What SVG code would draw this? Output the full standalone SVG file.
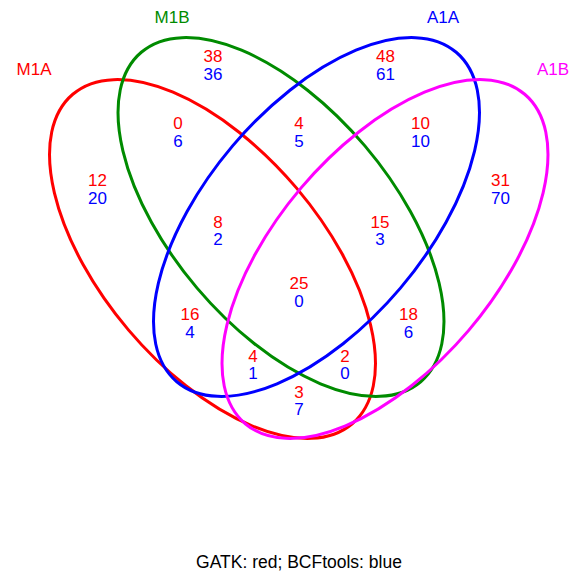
<svg xmlns="http://www.w3.org/2000/svg" width="569" height="573" viewBox="0 0 569 573">
<style>
.e{fill:none;stroke-width:3}
text{font-family:"Liberation Sans",Arial,sans-serif;font-size:17px;text-anchor:middle}
.r{fill:#FF0000}.b{fill:#0000FF}.g{fill:#008B00}.m{fill:#FF00FF}
</style>
<rect width="569" height="573" fill="#FFFFFF"/>
<g id="sets">
<g id="M1A"><ellipse class="e" stroke="#FF0000" cx="212.5" cy="259" rx="216" ry="110" transform="rotate(49.7 212.5 259)"/><text class="r" x="34" y="75">M1A</text></g>
<g id="M1B"><ellipse class="e" stroke="#008B00" cx="281" cy="217" rx="216" ry="110" transform="rotate(49.7 281 217)"/><text class="g" x="172" y="23">M1B</text></g>
<g id="A1A"><ellipse class="e" stroke="#0000FF" cx="316.5" cy="217" rx="216" ry="110" transform="rotate(-49.7 316.5 217)"/><text class="b" x="443" y="23">A1A</text></g>
<g id="A1B"><ellipse class="e" stroke="#FF00FF" cx="385" cy="259" rx="216" ry="110" transform="rotate(-49.7 385 259)"/><text class="m" x="553" y="75">A1B</text></g>
</g>
<g id="counts">
<text class="r" x="213" y="62">38</text><text class="b" x="213" y="80">36</text>
<text class="r" x="385.5" y="62">48</text><text class="b" x="385.5" y="80">61</text>
<text class="r" x="178" y="129">0</text><text class="b" x="178" y="147">6</text>
<text class="r" x="299" y="129">4</text><text class="b" x="299" y="147">5</text>
<text class="r" x="420.5" y="129">10</text><text class="b" x="420.5" y="147">10</text>
<text class="r" x="97.5" y="186">12</text><text class="b" x="97.5" y="204">20</text>
<text class="r" x="500.5" y="186">31</text><text class="b" x="500.5" y="204">70</text>
<text class="r" x="218" y="227.5">8</text><text class="b" x="218" y="245">2</text>
<text class="r" x="380" y="227.5">15</text><text class="b" x="380" y="245">3</text>
<text class="r" x="299" y="289">25</text><text class="b" x="299" y="306.5">0</text>
<text class="r" x="190" y="320">16</text><text class="b" x="190" y="337.5">4</text>
<text class="r" x="408.5" y="320">18</text><text class="b" x="408.5" y="337.5">6</text>
<text class="r" x="253" y="361.5">4</text><text class="b" x="253" y="379">1</text>
<text class="r" x="345" y="361.5">2</text><text class="b" x="345" y="379">0</text>
<text class="r" x="299" y="397.5">3</text><text class="b" x="299" y="415">7</text>
</g>
<text x="299" y="568" style="font-size:17.5px;fill:#000000">GATK: red; BCFtools: blue</text>
</svg>
